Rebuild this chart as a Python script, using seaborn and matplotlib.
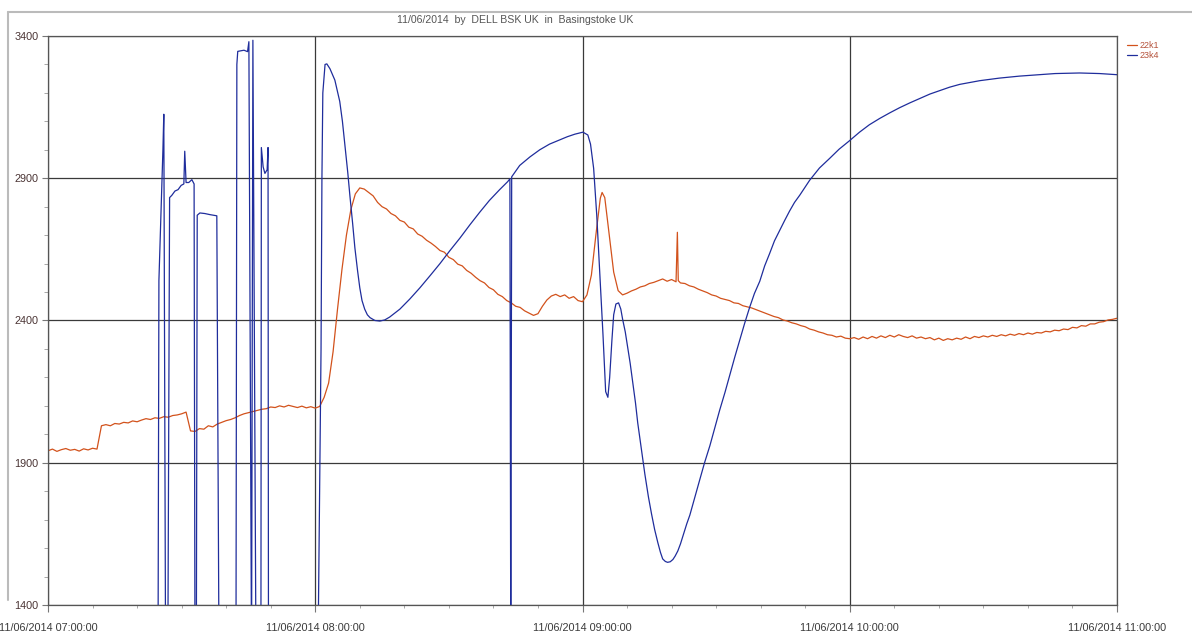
import numpy as np
import pandas as pd
import matplotlib
matplotlib.use("Agg")
import matplotlib.pyplot as plt
import matplotlib.dates as mdates
from matplotlib.lines import Line2D
import seaborn as sns

# ---------------- data (minutes after 07:00) ----------------
series_names = ["22k1", "23k4"]
series_colors = ["#d2521c", "#1f2d9c"]

red_t = (list(range(0, 125)) + [124.4] + list(range(125, 142)) + [141.3, 141.5]
         + list(range(142, 241)))
red_t = sorted(red_t)
red_v = [
    1942, 1948, 1940, 1946, 1950, 1944, 1947, 1941, 1949, 1945, 1951, 1948,   # 0-11
    2030, 2034, 2030, 2038, 2036, 2042, 2040, 2047, 2044,                     # 12-20
    2050, 2055, 2052, 2058, 2056, 2062, 2060, 2066, 2068, 2072, 2078,         # 21-31
    2012, 2010, 2020, 2018, 2030, 2026,                                       # 32-37
    2036, 2042, 2048, 2052, 2058, 2066, 2072, 2076, 2080, 2084, 2088, 2090, 2096,  # 38-50
    2094, 2100, 2096, 2102, 2098, 2094, 2099, 2093, 2097, 2092, 2098,         # 51-61
    2130, 2180, 2290, 2440, 2580, 2700, 2790, 2845, 2866, 2862,               # 62-71
    2850, 2838, 2815, 2800, 2792, 2776, 2768, 2752, 2746, 2728, 2722, 2704,   # 72-83
    2696, 2682, 2672, 2660, 2646, 2640, 2622, 2614, 2598, 2592, 2576, 2566,   # 84-95
    2552, 2540, 2532, 2516, 2508, 2492, 2484, 2470, 2462, 2450, 2446, 2434,   # 96-107
    2426, 2418, 2424, 2450, 2472, 2486, 2492, 2484, 2490, 2478, 2484, 2470,   # 108-119
    2466, 2490, 2560, 2700, 2830,                                             # 120-124
    2850,                                                                     # 124.4
    2832, 2700, 2570, 2505, 2490, 2496, 2504, 2510, 2518, 2522, 2530, 2534,   # 125-136
    2540, 2546, 2538, 2544, 2536,                                             # 137-141
    2710, 2540,                                                               # 141.3, 141.5
    2532, 2530, 2522, 2518, 2510, 2504, 2498, 2490, 2486, 2478, 2474, 2470,   # 142-153
    2462, 2460, 2452, 2448, 2444, 2438, 2432, 2426, 2420, 2414, 2410, 2402,   # 154-165
    2398, 2392, 2388, 2382, 2378, 2370, 2366, 2360, 2356, 2350, 2348, 2342,   # 166-177
    2345, 2338, 2336,                                                         # 178-180
    2340, 2334, 2342, 2336, 2344, 2338, 2346, 2340, 2348, 2342, 2350, 2344,   # 181-192
    2340, 2346, 2338, 2342, 2336, 2340, 2332, 2338, 2330, 2336, 2332, 2338,   # 193-204
    2334, 2342, 2336, 2344, 2340, 2346, 2342, 2348, 2344, 2350, 2346, 2352,   # 205-216
    2348, 2354, 2350, 2356, 2352, 2358, 2356, 2362, 2360, 2366, 2364, 2370,   # 217-228
    2368, 2376, 2374, 2382, 2380, 2388, 2388, 2394, 2396, 2402, 2404, 2408,   # 229-240
]

blue_t = [0, 24.7, 24.9, 25.8, 26.0, 26.4, 26.9, 27.3, 27.8, 28.5, 29.2, 29.9,
          30.5, 30.7, 31.0, 31.6, 32.3, 32.8, 33.0, 33.3, 33.5, 34.1, 35.2, 36.4,
          37.9, 38.4, 42.2, 42.4, 42.6, 44.0, 44.8, 45.1, 45.7, 46.0, 46.7, 47.8,
          47.9, 48.3, 48.7, 49.2, 49.4, 49.5, 60.6, 61.0, 61.3, 61.5, 61.7, 62.2,
          62.6, 63.3, 64.4, 65.5, 66.1, 66.7, 67.3, 67.8, 68.4, 68.9, 69.5, 70.0,
          70.5, 71.1, 71.7, 72.3, 73.4, 74.5, 75.6, 76.7, 79.0, 81.2, 83.5, 85.8,
          88.0, 90.2, 92.5, 94.7, 96.9, 99.1, 101.4, 103.2, 103.7, 103.9, 104.1, 105.9,
          108.2, 110.4, 112.6, 114.9, 116.6, 118.3, 120.1, 121.2, 121.8, 122.5, 123.2, 123.9,
          124.6, 125.2, 125.7, 126.1, 126.6, 127.0, 127.5, 128.1, 128.6, 129.0, 129.6, 130.1,
          130.7, 131.3, 131.9, 132.4, 133.2, 134.0, 134.8, 135.5, 136.2, 136.9, 137.5, 138.0,
          138.6, 139.1, 139.7, 140.3, 140.8, 141.4, 142.0, 142.7, 143.4, 144.1, 145.2, 146.3,
          147.4, 148.6, 149.7, 150.8, 152.0, 153.1, 154.2, 155.3, 156.4, 157.5, 158.6, 159.8,
          160.9, 162.0, 163.1, 164.3, 165.4, 166.5, 167.6, 168.8, 171.0, 173.2, 175.5, 177.6,
          179.8, 182.2, 184.4, 186.7, 189.0, 191.2, 193.5, 195.7, 198.0, 200.2, 202.4, 204.7,
          209.2, 213.6, 218.1, 222.6, 226.1, 231.6, 236.1, 240.0]
blue_v = [1200, 1200, 2540, 3000, 3125, 1200, 1200, 2832, 2840, 2855, 2860, 2875,
          2880, 2995, 2885, 2885, 2895, 2880, 1200, 1200, 2770, 2778, 2776, 2772,
          2768, 1200, 1200, 3300, 3346, 3350, 3345, 3380, 1200, 3385, 1200, 1200,
          3008, 2940, 2917, 2930, 3008, 1200, 1200, 1840, 2300, 2900, 3200, 3300,
          3302, 3285, 3245, 3170, 3100, 3010, 2920, 2835, 2740, 2655, 2575, 2515,
          2470, 2440, 2420, 2410, 2400, 2398, 2402, 2412, 2440, 2475, 2515, 2558,
          2600, 2645, 2690, 2736, 2780, 2822, 2860, 2888, 2898, 1200, 2905, 2945,
          2975, 3000, 3020, 3035, 3046, 3055, 3062, 3052, 3020, 2935, 2770, 2560,
          2350, 2150, 2130, 2200, 2330, 2420, 2458, 2462, 2440, 2405, 2360, 2310,
          2250, 2180, 2110, 2040, 1950, 1860, 1780, 1720, 1665, 1620, 1585, 1562,
          1553, 1550, 1552, 1560, 1572, 1590, 1615, 1650, 1685, 1716, 1778, 1839,
          1900, 1960, 2022, 2085, 2148, 2210, 2272, 2331, 2390, 2445, 2495, 2538,
          2592, 2635, 2680, 2718, 2752, 2785, 2815, 2841, 2893, 2936, 2970, 3002,
          3030, 3062, 3088, 3110, 3130, 3148, 3165, 3180, 3196, 3208, 3220, 3230,
          3243, 3252, 3259, 3264, 3268, 3270, 3268, 3264]

y_ticks = [1400, 1900, 2400, 2900, 3400]
title_text = "11/06/2014  by  DELL BSK UK  in  Basingstoke UK"

# ---------------- build frame ----------------
start = pd.Timestamp("2014-06-11 07:00:00")
df = pd.concat([
    pd.DataFrame({"time": start + pd.to_timedelta(red_t, unit="m"),
                  "value": red_v, "series": series_names[0]}),
    pd.DataFrame({"time": start + pd.to_timedelta(blue_t, unit="m"),
                  "value": blue_v, "series": series_names[1]}),
], ignore_index=True)

sns.set_theme(style="white")
plt.rcParams["font.family"] = ["Liberation Sans", "DejaVu Sans"]

fig = plt.figure(figsize=(11.92, 6.32), dpi=100)
ax = fig.add_axes([48 / 1192, 1 - 605 / 632, (1117 - 48) / 1192, (605 - 36) / 632])

sns.lineplot(data=df, x="time", y="value", hue="series",
             palette=dict(zip(series_names, series_colors)),
             estimator=None, sort=False, linewidth=0.9, ax=ax, legend=False)

ax.set_xlim(start, start + pd.Timedelta(hours=4))
ax.set_ylim(1400, 3400)
ax.set_xlabel("")
ax.set_ylabel("")

ax.xaxis.set_major_locator(mdates.HourLocator())
ax.xaxis.set_minor_locator(mdates.MinuteLocator(byminute=range(0, 60, 10)))
ax.xaxis.set_major_formatter(mdates.DateFormatter("%d/%m/%Y %H:%M:%S"))
ax.set_yticks(y_ticks)
ax.set_yticks(np.arange(1400, 3401, 100), minor=True)

ax.tick_params(axis="x", which="major", direction="out", length=5, width=0.8,
               color="#777777", labelsize=7.8, labelcolor="#3a3a3a", pad=8, bottom=True)
ax.tick_params(axis="x", which="minor", direction="out", length=2, width=0.6,
               color="#999999", bottom=True)
ax.tick_params(axis="y", which="major", direction="out", length=4, width=0.8,
               color="#777777", labelsize=7.8, labelcolor="#4a3434", pad=3, left=True)
ax.tick_params(axis="y", which="minor", direction="out", length=3, width=0.6,
               color="#999999", left=True)

ax.grid(True, which="major", color="#3a3a3a", linewidth=0.9)
for s in ax.spines.values():
    s.set_color("#555555")
    s.set_linewidth(0.9)

handles = [Line2D([0], [0], color=c, lw=0.9) for c in series_colors]
leg = ax.legend(handles, series_names, loc="upper left", bbox_to_anchor=(1.004, 1.0),
                frameon=False, fontsize=6.5, handlelength=1.1, handletextpad=0.3,
                labelspacing=0.1, borderaxespad=0.2)
for t in leg.get_texts():
    t.set_color("#b5533c")

fig.text(515 / 1192, 1 - 20 / 632, title_text, ha="center", va="center",
         fontsize=7.6, color="#555555")

# outer frame of the chart image
fig.add_artist(Line2D([8 / 1192, 1.0], [1 - 12 / 632, 1 - 12 / 632],
                      transform=fig.transFigure, color="#bbbbbb", lw=1.5))
fig.add_artist(Line2D([8 / 1192, 8 / 1192], [1 - 12 / 632, 1 - 600 / 632],
                      transform=fig.transFigure, color="#bbbbbb", lw=1.5))

fig.savefig("out.png", dpi=100)
